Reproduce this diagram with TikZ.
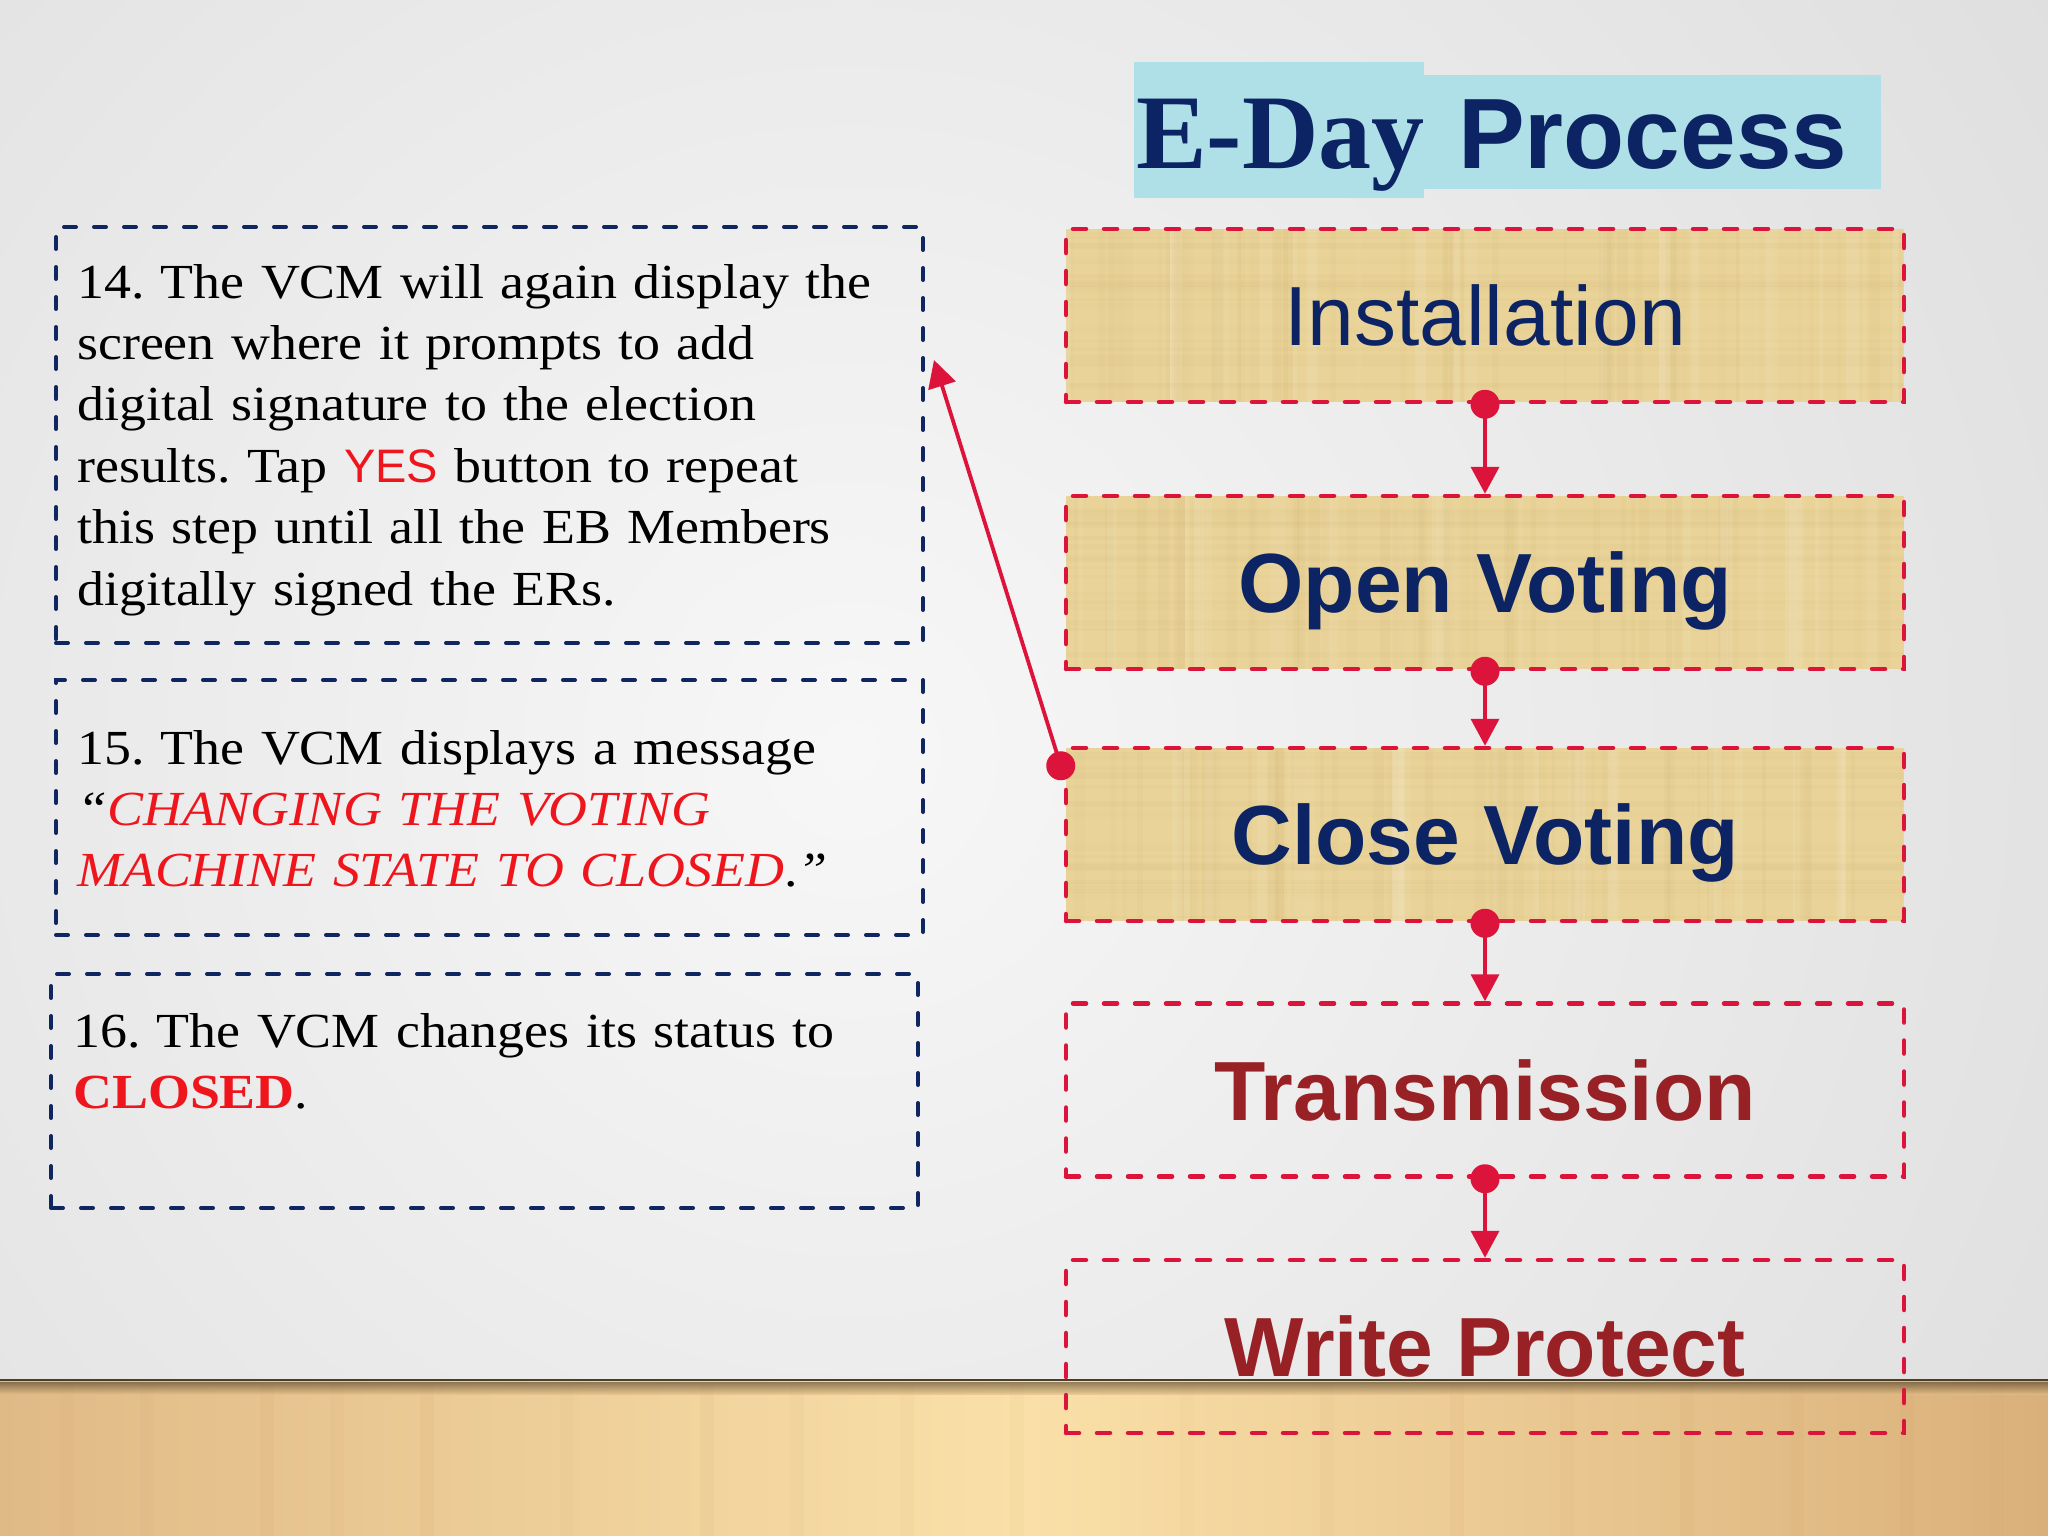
\documentclass[tikz,border=0pt]{standalone}
\usepackage{fontspec}
\setmainfont{Liberation Serif}
\newfontfamily\bodyfont{Liberation Serif}[FakeStretch=1.10]
\newfontfamily\sansf{Liberation Sans}
\newfontfamily\titleserif{Liberation Serif}
\usetikzlibrary{arrows.meta,calc}
\frenchspacing

\definecolor{navy}{RGB}{12,36,99}
\definecolor{boxnavy}{RGB}{16,38,96}
\definecolor{crimsonl}{RGB}{220,20,60}
\definecolor{darkred}{RGB}{152,33,38}
\definecolor{txtred}{RGB}{238,22,28}
\definecolor{papyrus}{RGB}{233,211,152}
\definecolor{papdark}{RGB}{190,160,95}
\definecolor{titlebg}{RGB}{176,224,231}
\definecolor{wallgray}{RGB}{210,210,210}
\definecolor{walllight}{RGB}{247,247,247}
\definecolor{woodA}{RGB}{224,186,134}
\definecolor{woodB}{RGB}{250,224,168}
\definecolor{woodC}{RGB}{218,176,122}
\definecolor{woodedge}{RGB}{78,62,36}

\tikzset{
  x=1pt, y=-1pt,
  rbox/.style={draw=crimsonl, line width=4.5pt, dash pattern=on 13pt off 18pt, line cap=round,
    minimum width=838pt, minimum height=173pt, inner sep=0pt,
    text height=60pt, text depth=0pt, align=center},
  rtext/.style={font=\sansf\fontsize{84}{84}\selectfont},
  rbold/.style={font=\sansf\bfseries\fontsize{84}{84}\selectfont},
  lbox/.style={draw=boxnavy, line width=4pt, dash pattern=on 12pt off 18pt, line cap=round,
    minimum width=867pt, inner sep=0pt},
  ltext/.style={anchor=base west, inner sep=0pt, text width=860pt, align=left,
    font=\bodyfont\fontsize{49}{61.4}\selectfont},
  conn/.style={draw=crimsonl, line width=3.8pt, -{Triangle[length=27pt,width=28pt]}},
  dot/.style={circle, fill=crimsonl, minimum size=29pt, inner sep=0pt},
}

% papyrus background with soft texture, centred at (#1,#2), size 838 x 173
\newcommand\papyrusbg[2]{%
  \fill[papyrus] (#1-419,#2-86.5) rectangle (#1+419,#2+86.5);
  \begin{scope}
    \clip (#1-419,#2-86.5) rectangle (#1+419,#2+86.5);
    \foreach \ii in {1,...,45}{%
      \pgfmathsetmacro\px{#1-419+rnd*838}%
      \pgfmathsetmacro\pw{2+rnd*10}%
      \pgfmathsetmacro\po{0.02+rnd*0.05}%
      \fill[papdark, opacity=\po] (\px,#2-86.5) rectangle ++(\pw,173);
    }
    \foreach \ii in {1,...,18}{%
      \pgfmathsetmacro\py{#2-86.5+rnd*173}%
      \pgfmathsetmacro\ph{2+rnd*6}%
      \pgfmathsetmacro\po{0.02+rnd*0.05}%
      \fill[papdark, opacity=\po] (#1-419,\py) rectangle ++(838,\ph);
    }
    \foreach \ii in {1,...,25}{%
      \pgfmathsetmacro\px{#1-419+rnd*838}%
      \pgfmathsetmacro\pw{3+rnd*12}%
      \pgfmathsetmacro\po{0.04+rnd*0.06}%
      \fill[white, opacity=\po] (\px,#2-86.5) rectangle ++(\pw,173);
    }
  \end{scope}%
}

\begin{document}
\begin{tikzpicture}
\pgfmathsetseed{7}
\useasboundingbox (0,0) rectangle (2048,1536);

% wall
\fill[wallgray] (0,0) rectangle (2048,1380);
\begin{scope}
  \clip (0,0) rectangle (2048,1380);
  \shade[inner color=walllight, outer color=wallgray] (-1350,-1450) rectangle (3050,2950);
\end{scope}

% floor
\shade[left color=woodA, right color=woodC, middle color=woodB] (0,1380) rectangle (2048,1536);
\foreach \xx/\oo in {60/0.10,140/0.08,260/0.12,330/0.07,420/0.10,560/0.06,700/0.09,790/0.07,900/0.05,1010/0.08,1180/0.05,1320/0.08,1450/0.10,1560/0.07,1680/0.12,1790/0.09,1900/0.11,1990/0.08}
  \fill[woodC!70!brown, opacity=\oo] (\xx,1384) rectangle ++(14,152);
\shade[top color=woodedge, bottom color=woodA, opacity=0.6] (0,1382) rectangle (2048,1394);
\draw[woodedge, line width=2.5pt] (0,1380) -- (2048,1380);

% title
\fill[titlebg] (1134,62) rectangle (1424,198);
\fill[titlebg] (1424,75) rectangle (1881,189);
\node[anchor=base west, inner sep=0pt, text=navy, font=\titleserif\bfseries\fontsize{106}{106}\selectfont] (eday) at (1136,168) {E-Day};
\node[anchor=base west, inner sep=0pt, text=navy, font=\sansf\bfseries\fontsize{100}{100}\selectfont] (proc) at (1458,168) {Process};

% left boxes
\node[lbox, minimum height=416pt] (b14) at (489.5,435) {};
\node[lbox, minimum height=255pt] (b15) at (489.5,807.5) {};
\node[lbox, minimum height=234pt] (b16) at (484.5,1091) {};

\node[ltext] (t14) at (77,298) {14. The VCM will again display the\\
screen where it prompts to add\\
digital signature to the election\\
results. Tap {\sansf\color{txtred}\fontsize{47}{61.4}\selectfont YES} button to repeat\\
this step until all the EB Members\\
digitally signed the ERs.};

\node[ltext] (t15) at (77,764) {15. The VCM displays a message\\
{\itshape “}{\itshape\color{txtred}CHANGING THE VOTING}\\
{\itshape\color{txtred}MACHINE STATE TO CLOSED}.{\itshape ”}};

\node[ltext] (t16) at (73,1047) {16. The VCM changes its status to\\
{\bfseries\color{txtred}CLOSED}.};

% papyrus fills
\papyrusbg{1485}{315.5}
\papyrusbg{1485}{582.5}
\papyrusbg{1485}{834.5}

% right boxes
\node[rbox, rtext, text=navy] (inst) at (1485,315.5) {Installation};
\node[rbox, rbold, text=navy] (open) at (1485,582.5) {Open Voting};
\node[rbox, rbold, text=navy] (close) at (1485,834.5) {Close Voting};
\node[rbox, rbold, text=darkred] (trans) at (1485,1090) {Transmission};
\node[rbox, rbold, text=darkred] (wp) at (1485,1346.5) {Write Protect};

% connectors
\node[dot] (d1) at (inst.south) {};
\node[dot] (d2) at (open.south) {};
\node[dot] (d4) at (close.south) {};
\node[dot] (d5) at (trans.south) {};
\draw[conn] (d1.center) -- (open.north);
\draw[conn] (d2.center) -- (close.north);
\draw[conn] (d4.center) -- (trans.north);
\draw[conn] (d5.center) -- (wp.north);

\node[dot] (d3) at ($(close.north west)+(-3,20)$) {};
\coordinate (tipL) at ($(b14.north east)+(9,135)$);
\draw[conn] (d3.center) -- (tipL);
\end{tikzpicture}
\end{document}
